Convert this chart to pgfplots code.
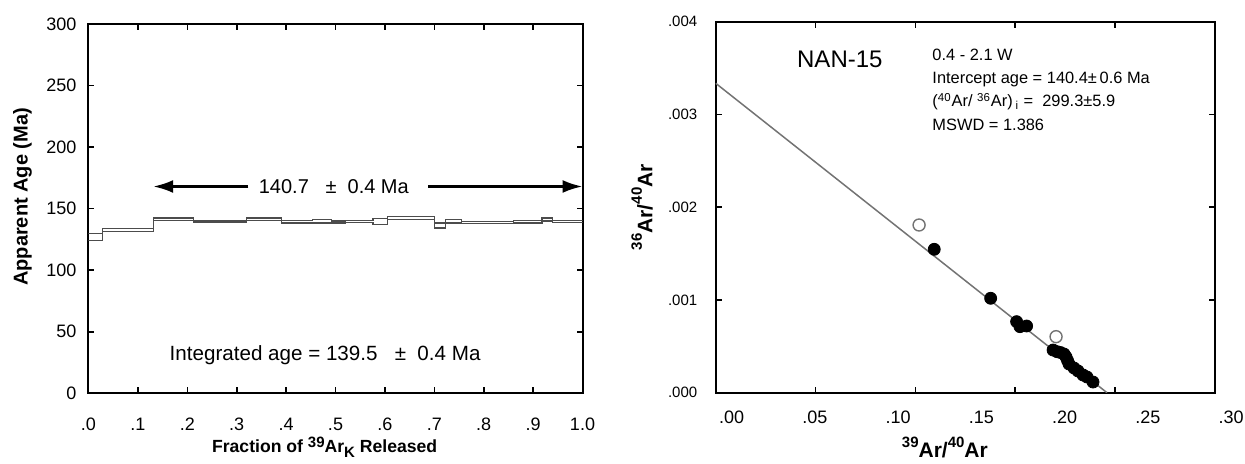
\documentclass[border=0pt]{standalone}
\usepackage{fontspec}
\setmainfont{Liberation Sans}
\usepackage{pgfplots}
\pgfplotsset{compat=1.18}
\usetikzlibrary{arrows.meta}
\newcommand{\bsup}[2][0.5em]{\raisebox{#1}{\fontsize{7.5}{8}\selectfont #2}}
\newcommand{\bsub}[1]{\raisebox{-0.3em}{\fontsize{7.5}{8}\selectfont #1}}

\begin{document}
\begin{tikzpicture}
\useasboundingbox (-44.25pt,-35.35pt) rectangle (578.25pt,196.65pt);
% ---------------- left: age spectrum ----------------
\begin{axis}[
  at={(0,0)}, anchor=south west,
  scale only axis, width=247pt, height=184.65pt,
  xmin=0, xmax=1, ymin=0, ymax=300,
  xtick={0,0.1,0.2,0.3,0.4,0.5,0.6,0.7,0.8,0.9,1},
  xticklabels={.0,.1,.2,.3,.4,.5,.6,.7,.8,.9,1.0},
  ytick={0,50,100,150,200,250,300},
  tick align=inside,
  major tick length=3pt,
  axis line style={line width=1pt},
  every tick/.style={line width=0.8pt, black},
  /pgf/number format/assume math mode=true,
  tick label style={font=\fontsize{9}{10}\selectfont},
  xticklabel style={yshift=-9pt},
  yticklabel style={xshift=-2.5pt},
  xlabel={\textbf{Fraction of \bsup[0.3em]{39}Ar\bsub{K} Released}},
  ylabel={\textbf{Apparent Age (Ma)}},
  xlabel style={at={(axis description cs:0.2494,-0.160)}, anchor=base west, inner sep=0pt, font=\fontsize{8.8}{10}\selectfont},
  ylabel style={at={(axis description cs:-0.1336,0.5316)}, anchor=center, font=\fontsize{10}{11}\selectfont},
]
\addplot[const plot mark left, draw=black!70, line width=0.6pt] coordinates {
 (0,129.7) (0.029,133.8) (0.131,142.4) (0.212,140.5) (0.320,142.4) (0.390,140.5)
 (0.453,141.4) (0.492,140.0) (0.520,140.5) (0.576,141.9) (0.605,143.8) (0.701,138.4)
 (0.723,141.4) (0.755,139.7) (0.860,140.5) (0.918,142.4) (0.940,140.5) (1.0,140.5)};
\addplot[const plot mark left, draw=black!70, line width=0.6pt] coordinates {
 (0,124.3) (0.029,131.6) (0.131,140.5) (0.212,139.2) (0.320,140.5) (0.390,138.4)
 (0.453,138.4) (0.492,138.4) (0.520,138.6) (0.576,137.0) (0.605,141.4) (0.701,134.3)
 (0.723,138.4) (0.755,137.8) (0.860,138.4) (0.918,140.0) (0.940,138.6) (1.0,138.6)};
\draw[line width=1.3pt, -{Latex[length=10pt,width=6.5pt]}] (axis cs:0.3235,168) -- (axis cs:0.131,168);
\draw[line width=1.3pt, -{Latex[length=10pt,width=6.5pt]}] (axis cs:0.688,168) -- (axis cs:1.0,168);
\node[anchor=west, inner sep=0pt, font=\fontsize{10}{12}\selectfont] at (axis cs:0.344,168) {140.7\ \ \ \textpm\ \ 0.4 Ma};
\node[anchor=west, inner sep=0pt, font=\fontsize{10.3}{12}\selectfont] at (axis cs:0.1636,31) {Integrated age = 139.5\ \ \ \textpm\ \ 0.4 Ma};
\end{axis}
% ---------------- right: isochron ----------------
\begin{axis}[
  at={(313.6pt,0.3pt)}, anchor=south west,
  scale only axis, width=249.65pt, height=185.5pt,
  xmin=0, xmax=0.30, ymin=0, ymax=0.004,
  xtick={0.06,0.12,0.18,0.24}, xticklabels={},
  extra x ticks={0,0.05,0.10,0.15,0.20,0.25,0.30},
  extra x tick labels={.00,.05,.10,.15,.20,.25,.30},
  extra x tick style={major tick length=0pt, xticklabel style={xshift=8pt, yshift=-5.8pt}},
  ytick={0,0.001,0.002,0.003,0.004},
  yticklabels={.000,.001,.002,.003,.004},
  scaled x ticks=false, scaled y ticks=false,
  tick align=inside,
  major tick length=3pt,
  axis line style={line width=1pt},
  every tick/.style={line width=0.8pt, black},
  xticklabel style={font=\fontsize{9}{10}\selectfont},
  yticklabel style={font=\fontsize{7.5}{9}\selectfont, xshift=-5.7pt},
  xlabel={\textbf{\bsup{39}Ar/\bsup{40}Ar}},
  ylabel={\textbf{\bsup{36}Ar/\bsup{40}Ar}},
  xlabel style={at={(axis description cs:0.459,-0.176)}, anchor=base, font=\fontsize{10.5}{11}\selectfont},
  ylabel style={at={(axis description cs:-0.1476,0.5)}, anchor=center, font=\fontsize{10.5}{11}\selectfont},
]
\addplot[draw=black!55, line width=0.75pt] coordinates {(0,0.003336) (0.2351,0)};
\addplot[only marks, mark=*, mark size=3pt, mark options={fill=black, draw=black, line width=0.4pt}] coordinates {
 (0.1313,0.001546) (0.1652,0.001018) (0.1808,0.000766) (0.1828,0.000712) (0.1868,0.000719)
 (0.2027,0.000460) (0.2051,0.000442) (0.2072,0.000433) (0.2093,0.000417) (0.2105,0.000385)
 (0.2114,0.000347) (0.2123,0.000309) (0.2153,0.000266) (0.2177,0.000234) (0.2207,0.000191)
 (0.2231,0.000169) (0.2267,0.000115)};
\addplot[only marks, mark=o, mark size=3pt, mark options={draw=black!55, line width=0.7pt}] coordinates {
 (0.1222,0.001808) (0.2045,0.000604)};
\node[anchor=west, inner sep=0pt, font=\fontsize{12}{14}\selectfont] at (axis cs:0.0487,0.003596) {NAN-15};
\node[anchor=base west, inner sep=0pt, font=\fontsize{8.2}{10}\selectfont] at (axis cs:0.1300,0.003587) {0.4 - 2.1 W};
\node[anchor=base west, inner sep=0pt, font=\fontsize{8.2}{10}\selectfont] at (axis cs:0.1300,0.003339) {Intercept age = 140.4\textpm\,0.6 Ma};
\node[anchor=base west, inner sep=0pt, font=\fontsize{8.2}{10}\selectfont] at (axis cs:0.1300,0.003084) {(\textsuperscript{40}Ar/ \textsuperscript{36}Ar)\,\textsubscript{i}\ =\ \ 299.3\textpm5.9};
\node[anchor=base west, inner sep=0pt, font=\fontsize{8.2}{10}\selectfont] at (axis cs:0.1300,0.002832) {MSWD = 1.386};
\end{axis}
\end{tikzpicture}
\end{document}
